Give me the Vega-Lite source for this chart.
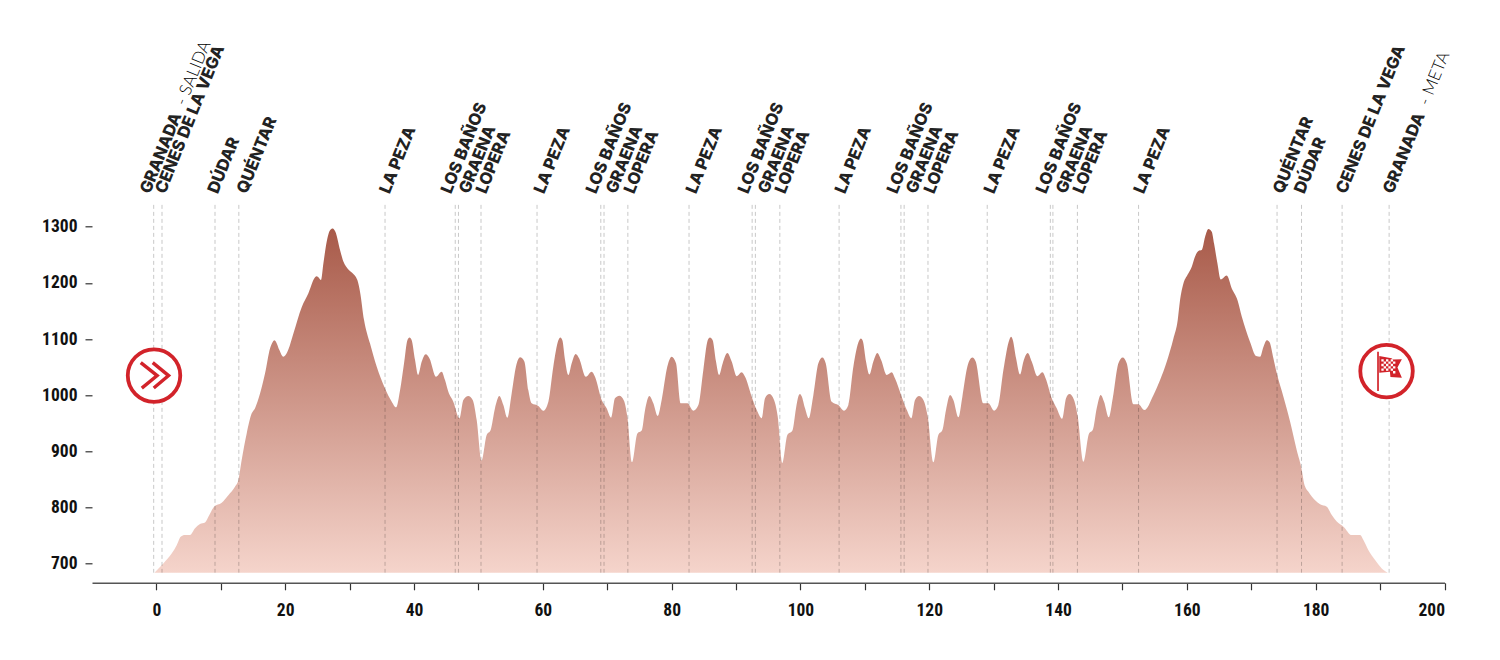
{
  "$schema": "https://vega.github.io/schema/vega-lite/v6.json",
  "width": 1352.5,
  "height": 378.5,
  "autosize": "none",
  "padding": {"left": 92, "top": 204.3, "right": 55.5, "bottom": 77.2},
  "background": "white",
  "config": {"view": {"stroke": null}},
  "datasets": {
    "profile": [
      {"km":-0.27,"elev":684.5},{"km":1.08,"elev":700.5},{"km":2.37,"elev":718},{"km":3.15,"elev":733},{"km":3.77,"elev":748},{"km":4.44,"elev":751},{"km":5.22,"elev":751},{"km":6.0,"elev":763},{"km":6.77,"elev":770.6},{"km":7.55,"elev":773.5},{"km":8.22,"elev":786.6},{"km":8.95,"elev":801.5},{"km":10.14,"elev":808.6},{"km":11.17,"elev":822},{"km":12.2,"elev":837},{"km":12.73,"elev":849},{"km":13.24,"elev":884.6},{"km":14.02,"elev":932},{"km":14.8,"elev":967.7},{"km":15.3,"elev":976.6},{"km":16.09,"elev":1003},{"km":16.87,"elev":1039},{"km":17.64,"elev":1083.4},{"km":18.06,"elev":1095},{"km":18.32,"elev":1098},{"km":18.58,"elev":1095},{"km":19.09,"elev":1080.5},{"km":19.71,"elev":1068.6},{"km":20.34,"elev":1077.5},{"km":21.27,"elev":1110},{"km":22.56,"elev":1156.5},{"km":23.6,"elev":1181.4},{"km":24.63,"elev":1210},{"km":24.9,"elev":1212},{"km":25.15,"elev":1210},{"km":25.56,"elev":1205},{"km":25.93,"elev":1235},{"km":26.44,"elev":1273.4},{"km":26.96,"elev":1294},{"km":27.37,"elev":1297},{"km":27.79,"elev":1291},{"km":28.51,"elev":1258.6},{"km":29.03,"elev":1238},{"km":29.81,"elev":1224},{"km":30.58,"elev":1216},{"km":31.2,"elev":1205},{"km":31.62,"elev":1184},{"km":32.24,"elev":1134},{"km":33.17,"elev":1092},{"km":34.2,"elev":1051},{"km":35.5,"elev":1012},{"km":36.54,"elev":988.5},{"km":37.21,"elev":978.4},{"km":37.83,"elev":1009},{"km":38.45,"elev":1057},{"km":38.97,"elev":1098},{"km":39.3,"elev":1103},{"km":39.64,"elev":1098},{"km":40.16,"elev":1062.7},{"km":40.63,"elev":1036},{"km":41.2,"elev":1060},{"km":41.82,"elev":1073},{"km":42.4,"elev":1065.6},
      {"km":43.41,"elev":1033},{"km":44.29,"elev":1042},{"km":44.81,"elev":1027},{"km":45.33,"elev":1006},{"km":46.1,"elev":988.6},{"km":47.04,"elev":959},{"km":47.66,"elev":991.5},{"km":48.43,"elev":998.6},{"km":49.11,"elev":991.5},{"km":49.73,"elev":956},{"km":50.5,"elev":883.5},{"km":51.28,"elev":929},{"km":51.9,"elev":938},{"km":52.57,"elev":976.7},{"km":53.25,"elev":998.6},{"km":53.87,"elev":982.6},{"km":54.49,"elev":960},{"km":55.16,"elev":1003},{"km":55.83,"elev":1051},{"km":56.46,"elev":1067.5},{"km":57.13,"elev":1060},{"km":57.75,"elev":1009},{"km":58.27,"elev":985.6},{"km":59.3,"elev":981},{"km":60.08,"elev":972.5},{"km":60.86,"elev":988.6},{"km":61.63,"elev":1051},{"km":62.41,"elev":1098},{"km":62.72,"elev":1103},{"km":63.03,"elev":1098},{"km":63.44,"elev":1063},{"km":63.96,"elev":1036},{"km":64.48,"elev":1057},{"km":65.1,"elev":1073.4},{"km":65.62,"elev":1066},{"km":66.7,"elev":1033},{"km":67.58,"elev":1042},{"km":68.1,"elev":1033},{"km":69.14,"elev":991.5},{"km":69.91,"elev":976.7},{"km":70.59,"elev":960},{"km":71.2,"elev":994.5},{"km":71.88,"elev":999},{"km":72.6,"elev":990},{"km":73.12,"elev":962},{"km":73.85,"elev":880.5},{"km":74.68,"elev":932},{"km":75.35,"elev":937},{"km":75.87,"elev":973.7},{"km":76.54,"elev":998.6},{"km":77.16,"elev":985.6},{"km":77.83,"elev":963},{"km":78.45,"elev":991.5},{"km":79.33,"elev":1051},{"km":80.0,"elev":1068.7},{"km":80.68,"elev":1057},{"km":81.4,"elev":985.6},{"km":82.44,"elev":985.6},{"km":83.37,"elev":972.5},{"km":84.15,"elev":982.6},{"km":84.92,"elev":1045},{"km":85.6,"elev":1098},{"km":85.95,"elev":1103},
      {"km":86.37,"elev":1098},{"km":86.89,"elev":1060},{"km":87.36,"elev":1036},{"km":87.93,"elev":1057},{"km":88.65,"elev":1075},{"km":89.32,"elev":1060},{"km":90.1,"elev":1034},{"km":90.88,"elev":1041},{"km":91.4,"elev":1033},{"km":92.43,"elev":997.5},{"km":93.2,"elev":974},{"km":93.98,"elev":959},{"km":94.5,"elev":994.5},{"km":95.17,"elev":1002},{"km":95.9,"elev":991.5},{"km":96.47,"elev":962},{"km":97.19,"elev":879},{"km":97.97,"elev":929},{"km":98.75,"elev":937},{"km":99.31,"elev":976.7},{"km":99.68,"elev":998},{"km":99.93,"elev":1002},{"km":100.19,"elev":998},{"km":100.71,"elev":976.7},{"km":101.28,"elev":959},{"km":102.0,"elev":1000},{"km":102.78,"elev":1057},{"km":103.4,"elev":1067},{"km":103.92,"elev":1057},{"km":104.85,"elev":988.6},{"km":105.89,"elev":982.6},{"km":106.77,"elev":972.5},{"km":107.44,"elev":982.6},{"km":108.22,"elev":1051},{"km":109.1,"elev":1097},{"km":109.38,"elev":1101},{"km":109.67,"elev":1097},{"km":110.18,"elev":1060},{"km":110.7,"elev":1037},{"km":111.32,"elev":1060},{"km":111.94,"elev":1075},{"km":112.51,"elev":1063},{"km":113.39,"elev":1036},{"km":114.17,"elev":1041},{"km":114.69,"elev":1030},{"km":115.72,"elev":997.5},{"km":116.5,"elev":974},{"km":117.22,"elev":959},{"km":117.79,"elev":991.5},{"km":118.41,"elev":998.6},{"km":119.09,"elev":991.5},{"km":119.76,"elev":962},{"km":120.64,"elev":880.5},{"km":121.41,"elev":929},{"km":122.04,"elev":938},{"km":122.6,"elev":973.7},{"km":123.23,"elev":1000.4},{"km":123.74,"elev":991.5},{"km":124.52,"elev":960.7},{"km":125.14,"elev":997.5},{"km":125.92,"elev":1051},{"km":126.7,"elev":1067},{"km":127.21,"elev":1060},{"km":128.4,"elev":985.6},{"km":129.18,"elev":985.6},
      {"km":130.06,"elev":972.5},{"km":130.73,"elev":982.6},{"km":131.51,"elev":1045},{"km":132.44,"elev":1099},{"km":132.7,"elev":1104},{"km":132.96,"elev":1099},{"km":133.48,"elev":1066},{"km":134.1,"elev":1037},{"km":134.62,"elev":1060},{"km":135.29,"elev":1075},{"km":135.91,"elev":1060},{"km":136.79,"elev":1034},{"km":137.57,"elev":1041},{"km":138.08,"elev":1030},{"km":139.02,"elev":994.5},{"km":139.79,"elev":976.7},{"km":140.62,"elev":958},{"km":141.24,"elev":994.5},{"km":141.76,"elev":1002},{"km":142.48,"elev":991.5},{"km":143.05,"elev":962},{"km":143.93,"elev":881.7},{"km":144.81,"elev":932},{"km":145.38,"elev":938},{"km":146.0,"elev":976.7},{"km":146.62,"elev":1000.4},{"km":147.14,"elev":988.6},{"km":147.87,"elev":960.7},{"km":148.49,"elev":994.5},{"km":149.37,"elev":1057},{"km":150.04,"elev":1067},{"km":150.66,"elev":1057},
      {"km":151.7,"elev":984},{"km":152.47,"elev":984},{"km":153.41,"elev":973.6},{"km":154.8,"elev":1000},{"km":155.84,"elev":1027},{"km":156.87,"elev":1059.7},{"km":157.91,"elev":1101},{"km":158.58,"elev":1134},{"km":158.94,"elev":1169.5},{"km":159.46,"elev":1199},{"km":160.08,"elev":1214},{"km":160.76,"elev":1229},{"km":161.27,"elev":1247},{"km":161.79,"elev":1257},{"km":162.31,"elev":1258.6},{"km":162.83,"elev":1282},{"km":163.34,"elev":1296},{"km":163.86,"elev":1291},{"km":164.22,"elev":1270},{"km":164.74,"elev":1235},{"km":165.26,"elev":1206},{"km":166.19,"elev":1213},{"km":166.97,"elev":1190},{"km":167.85,"elev":1169.5},{"km":168.52,"elev":1140},{"km":169.81,"elev":1095},{"km":170.75,"elev":1070},{"km":171.37,"elev":1068.6},{"km":171.88,"elev":1086},{"km":172.4,"elev":1098},{"km":172.82,"elev":1095},{"km":173.44,"elev":1065.6},{"km":173.96,"elev":1039},{"km":175.0,"elev":997},{"km":176.03,"elev":953},{"km":177.06,"elev":902},{"km":177.84,"elev":867},{"km":178.2,"elev":843},{"km":178.87,"elev":828},{"km":179.91,"elev":813},{"km":180.68,"elev":806},{"km":181.72,"elev":801.5},{"km":182.5,"elev":786.6},{"km":183.27,"elev":775},{"km":184.31,"elev":766},{"km":185.6,"elev":751},{"km":186.9,"elev":751},{"km":187.41,"elev":742},{"km":188.19,"elev":724},{"km":189.22,"elev":706.5},{"km":190.26,"elev":691.6},{"km":191.14,"elev":684.5}
    ],
    "places": [
      {"km":-0.42,"labelKm":-1.93,"place":"GRANADA","note":"- SALIDA"},
      {"km":0.87,"labelKm":0.45,"place":"CENES DE LA VEGA"},
      {"km":9.1,"labelKm":8.59,"place":"DÚDAR"},
      {"km":12.8,"labelKm":13.09,"place":"QUÉNTAR"},
      {"km":35.5,"labelKm":35.26,"place":"LA PEZA"},
      {"km":46.4,"labelKm":44.81,"place":"LOS BAÑOS"},
      {"km":46.9,"labelKm":47.61,"place":"GRAENA"},
      {"km":50.4,"labelKm":50.25,"place":"LOPERA"},
      {"km":59.1,"labelKm":59.25,"place":"LA PEZA"},
      {"km":69.0,"labelKm":67.33,"place":"LOS BAÑOS"},
      {"km":69.5,"labelKm":70.43,"place":"GRAENA"},
      {"km":73.2,"labelKm":73.23,"place":"LOPERA"},
      {"km":82.7,"labelKm":82.86,"place":"LA PEZA"},
      {"km":92.5,"labelKm":90.93,"place":"LOS BAÑOS"},
      {"km":93.0,"labelKm":94.04,"place":"GRAENA"},
      {"km":96.8,"labelKm":96.68,"place":"LOPERA"},
      {"km":106.0,"labelKm":105.99,"place":"LA PEZA"},
      {"km":115.6,"labelKm":114.07,"place":"LOS BAÑOS"},
      {"km":116.1,"labelKm":117.02,"place":"GRAENA"},
      {"km":119.8,"labelKm":119.81,"place":"LOPERA"},
      {"km":129.0,"labelKm":129.13,"place":"LA PEZA"},
      {"km":138.8,"labelKm":137.2,"place":"LOS BAÑOS"},
      {"km":139.2,"labelKm":140.31,"place":"GRAENA"},
      {"km":143.0,"labelKm":142.95,"place":"LOPERA"},
      {"km":152.5,"labelKm":152.4,"place":"LA PEZA"},
      {"km":174.0,"labelKm":174.0,"place":"QUÉNTAR"},
      {"km":177.8,"labelKm":177.29,"place":"DÚDAR"},
      {"km":184.1,"labelKm":183.8,"place":"CENES DE LA VEGA"},
      {"km":191.4,"labelKm":191.1,"place":"GRANADA","note":"- META"}
    ],
    "startIcon": [{"km":-0.37,"elev":1035}],
    "finishIcon": [{"km":191.0,"elev":1043}]
  },
  "layer": [
    {
      "data": {"name": "profile"},
      "mark": {
        "type": "area",
        "interpolate": "monotone",
        "color": {
          "gradient": "linear",
          "x1": 0, "y1": 0, "x2": 0, "y2": 1,
          "stops": [
            {"offset": 0, "color": "#a85a49"},
            {"offset": 1, "color": "#f5d4cb"}
          ]
        }
      },
      "encoding": {
        "x": {
          "field": "km",
          "type": "quantitative",
          "scale": {"domain": [-10, 200], "nice": false, "zero": false},
          "axis": {
            "title": null,
            "grid": false,
            "values": [0,10,20,30,40,50,60,70,80,90,100,110,120,130,140,150,160,170,180,190,200],
            "labelExpr": "datum.value % 20 === 0 ? datum.label : ''",
            "format": "d",
            "domainColor": "#555555",
            "domainWidth": 1.5,
            "tickColor": "#333333",
            "tickWidth": 1.2,
            "tickSize": 7,
            "labelFont": "Roboto Condensed, Noto Sans Condensed, Open Sans Condensed, DejaVu Sans Condensed, Roboto",
            "labelFontWeight": "bold",
            "labelFontSize": 17.5,
            "labelColor": "#111111",
            "labelPadding": 12,
            "labelOverlap": false
          }
        },
        "y": {
          "field": "elev",
          "type": "quantitative",
          "scale": {"domain": [666, 1340], "nice": false, "zero": false},
          "axis": {
            "title": null,
            "grid": false,
            "domain": false,
            "values": [700,800,900,1000,1100,1200,1300],
            "format": "d",
            "tickColor": "#333333",
            "tickWidth": 1.2,
            "tickSize": 7,
            "labelFont": "Roboto Condensed, Noto Sans Condensed, Open Sans Condensed, DejaVu Sans Condensed, Roboto",
            "labelFontWeight": "bold",
            "labelFontSize": 17.5,
            "labelColor": "#111111",
            "labelPadding": 8
          }
        },
        "y2": {"datum": 684}
      }
    },
    {
      "data": {"name": "places"},
      "mark": {"type": "rule", "color": "#000000", "opacity": 0.22, "strokeWidth": 1, "strokeDash": [4, 3]},
      "encoding": {
        "x": {"field": "km", "type": "quantitative", "scale": {"domain": [-10, 200], "nice": false, "zero": false}},
        "y": {"datum": 1339, "scale": {"domain": [666, 1340], "nice": false, "zero": false}},
        "y2": {"datum": 684}
      }
    },
    {
      "data": {"name": "places"},
      "mark": {"type": "text", "angle": -68, "align": "left", "baseline": "middle", "dx": -1.5, "dy": 2, "font": "Inter", "fontWeight": 800, "fontSize": 16.5, "color": "#222222"},
      "encoding": {
        "x": {"field": "labelKm", "type": "quantitative", "scale": {"domain": [-10, 200], "nice": false, "zero": false}},
        "y": {"datum": 1364.6, "scale": {"domain": [666, 1340], "nice": false, "zero": false}},
        "text": {"field": "place"}
      }
    },
    {
      "data": {"name": "places"},
      "transform": [{"filter": "isValid(datum.note)"}],
      "mark": {"type": "text", "angle": -68, "align": "left", "baseline": "middle", "dx": 93.5, "dy": 2, "font": "Lato", "fontWeight": 300, "fontSize": 17, "color": "#000000"},
      "encoding": {
        "x": {"field": "labelKm", "type": "quantitative", "scale": {"domain": [-10, 200], "nice": false, "zero": false}},
        "y": {"datum": 1364.6, "scale": {"domain": [666, 1340], "nice": false, "zero": false}},
        "text": {"field": "note"}
      }
    },
    {
      "data": {"name": "startIcon"},
      "mark": {"type": "point", "shape": "circle", "size": 2756, "filled": true, "fill": "white", "stroke": "#d2232a", "strokeWidth": 3.8, "opacity": 1},
      "encoding": {
        "x": {"field": "km", "type": "quantitative", "scale": {"domain": [-10, 200], "nice": false, "zero": false}},
        "y": {"field": "elev", "type": "quantitative", "scale": {"domain": [666, 1340], "nice": false, "zero": false}}
      }
    },
    {
      "data": {"name": "startIcon"},
      "mark": {"type": "point", "shape": "M-.51-.5L.12 0L-.47.48M-.05-.5L.56 0L-.01.48", "size": 2704, "filled": false, "stroke": "#d2232a", "strokeWidth": 3.4, "opacity": 1},
      "encoding": {
        "x": {"field": "km", "type": "quantitative", "scale": {"domain": [-10, 200], "nice": false, "zero": false}},
        "y": {"field": "elev", "type": "quantitative", "scale": {"domain": [666, 1340], "nice": false, "zero": false}}
      }
    },
    {
      "data": {"name": "finishIcon"},
      "mark": {"type": "point", "shape": "circle", "size": 2756, "filled": true, "fill": "white", "stroke": "#d2232a", "strokeWidth": 3.8, "opacity": 1},
      "encoding": {
        "x": {"field": "km", "type": "quantitative", "scale": {"domain": [-10, 200], "nice": false, "zero": false}},
        "y": {"field": "elev", "type": "quantitative", "scale": {"domain": [666, 1340], "nice": false, "zero": false}}
      }
    },
    {
      "data": {"name": "finishIcon"},
      "mark": {"type": "point", "shape": "M-.36-.74H-.295V.77H-.36ZM-.28-.58L.19-.49L.26-.45L.59-.46L.42-.14L.59.26L.15.23L.13.03L-.28.06Z", "size": 2704, "filled": true, "fill": "#d2232a", "opacity": 1},
      "encoding": {
        "x": {"field": "km", "type": "quantitative", "scale": {"domain": [-10, 200], "nice": false, "zero": false}},
        "y": {"field": "elev", "type": "quantitative", "scale": {"domain": [666, 1340], "nice": false, "zero": false}}
      }
    },
    {
      "data": {"name": "finishIcon"},
      "mark": {"type": "point", "shape": "M-.2-.46h.09v.09h-.09zM-.02-.46h.09v.09h-.09zM.16-.46h.09v.09h-.09zM-.11-.37h.09v.09h-.09zM.07-.37h.09v.09h-.09zM.25-.37h.09v.09h-.09zM-.2-.28h.09v.09h-.09zM-.02-.28h.09v.09h-.09zM.16-.28h.09v.09h-.09zM-.11-.19h.09v.09h-.09zM.07-.19h.09v.09h-.09zM.25-.19h.09v.09h-.09zM-.2-.1h.09v.09h-.09zM-.02-.1h.09v.09h-.09zM.16-.1h.09v.09h-.09zM.25 0h.09v.09h-.09z", "size": 2704, "filled": true, "fill": "white", "opacity": 1},
      "encoding": {
        "x": {"field": "km", "type": "quantitative", "scale": {"domain": [-10, 200], "nice": false, "zero": false}},
        "y": {"field": "elev", "type": "quantitative", "scale": {"domain": [666, 1340], "nice": false, "zero": false}}
      }
    }
  ]
}
